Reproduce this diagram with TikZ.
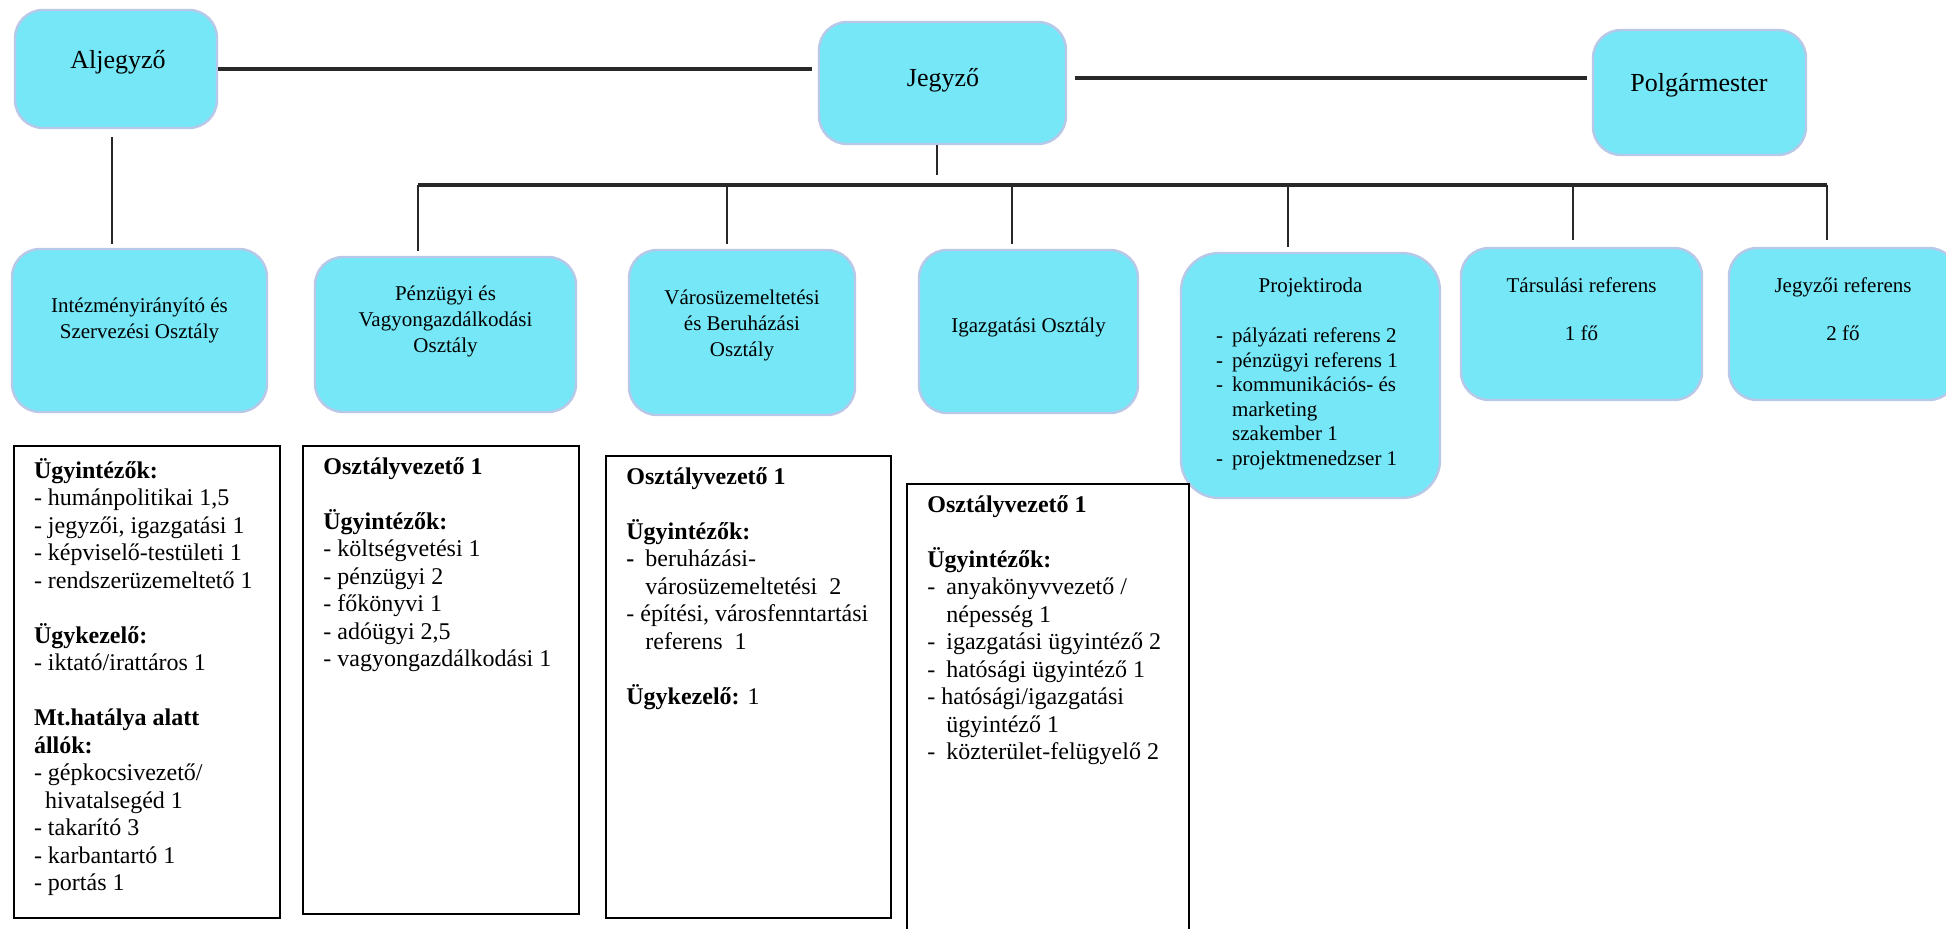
\documentclass[tikz,border=0pt]{standalone}
\usepackage{fontspec}
\setmainfont{Liberation Serif}
\usetikzlibrary{positioning}
\definecolor{boxfill}{RGB}{117,231,247}
\definecolor{boxline}{RGB}{183,200,232}
\definecolor{wire}{RGB}{40,40,40}
\newcommand{\itm}[1][9.5pt]{\makebox[#1][l]{-}}
\tikzset{
  unit/.style={draw=boxline, line width=1.2pt, fill=boxfill, rounded corners=14pt, inner sep=0pt},
  head/.style={font=\fontsize{13}{15}\selectfont, inner sep=0pt},
  dept/.style={font=\fontsize{10.5}{13}\selectfont, align=center, inner sep=0pt},
  sub/.style={font=\fontsize{10.5}{12.25}\selectfont, align=left, inner sep=0pt},
  staff/.style={draw=black, line width=1.1pt, inner sep=0pt, anchor=north west},
  list/.style={font=\fontsize{12}{13.75}\selectfont, align=left, inner sep=0pt},
  link/.style={draw=wire, line width=2pt},
  drop/.style={draw=wire, line width=1.4pt}
}
\begin{document}
\begin{tikzpicture}[x=0.5pt, y=-0.5pt]
  \useasboundingbox (0,0) rectangle (1946,929);
  \clip (0,0) rectangle (1946,929);

  \node[unit, minimum width=101pt, minimum height=59pt] (alj) at (116,69) {};
  \node[unit, minimum width=123.5pt, minimum height=61pt] (jeg) at (942.5,83) {};
  \node[unit, minimum width=106.5pt, minimum height=62.5pt] (pol) at (1699.5,92.5) {};
  \node[head] (aljt) at (118,62) {Aljegyző};
  \node[head] (jegt) at (943,80) {Jegyző};
  \node[head] (polt) at (1699,85) {Polgármester};

  \node[unit, minimum width=127.5pt, minimum height=81.5pt] (int) at (139.5,330.5) {};
  \node[unit, minimum width=130.5pt, minimum height=77.5pt] (pen) at (445.5,334.5) {};
  \node[unit, minimum width=113pt, minimum height=82.5pt] (var) at (742,332.5) {};
  \node[unit, minimum width=109.5pt, minimum height=81.5pt] (iga) at (1028.5,331.5) {};
  \node[unit, minimum width=129.5pt, minimum height=122.5pt, rounded corners=19pt] (prj) at (1310.5,375.5) {};
  \node[unit, minimum width=120.5pt, minimum height=76pt] (tar) at (1581.5,324) {};
  \node[unit, minimum width=114pt, minimum height=76pt] (jre) at (1843,324) {};

  \node[dept, below=25pt of int.north] (intt) {Intézményirányító és\\Szervezési Osztály};
  \node[dept, below=15pt of pen.north] (pent) {Pénzügyi és\\Vagyongazdálkodási\\Osztály};
  \node[dept, below=20.5pt of var.north] (vart) {Városüzemeltetési\\és Beruházási\\Osztály};
  \node[dept, below=34.5pt of iga.north] (igat) {Igazgatási Osztály};
  \node[dept, below=13pt of prj.north] (prjt) {Projektiroda};
  \node[sub, below right=38pt and 18pt of prj.north west] (prjl) {\itm[8pt]pályázati referens 2\\
    \itm[8pt]pénzügyi referens 1\\
    \itm[8pt]kommunikációs- és\\
    \hspace*{8pt}marketing\\
    \hspace*{8pt}szakember 1\\
    \itm[8pt]projektmenedzser 1};
  \node[dept, below=15.5pt of tar.north] (tart) {Társulási referens\\[11pt]1 fő};
  \node[dept, below=15.5pt of jre.north] (jret) {Jegyzői referens\\[11pt]2 fő};

  \node[staff, minimum width=133.3pt, minimum height=236pt] (fa) at (12.6,445) {};
  \node[staff, minimum width=138pt, minimum height=234pt] (fb) at (302,445) {};
  \node[staff, minimum width=142.5pt, minimum height=231pt] (fc) at (605,455) {};
  \node[staff, minimum width=141pt, minimum height=232pt] (fd) at (906,483) {};

  \node[list, below right=6.5pt and 10.5pt of fa.north west] (la) {\textbf{Ügyintézők:}\\
    - humánpolitikai 1,5\\
    - jegyzői, igazgatási 1\\
    - képviselő-testületi 1\\
    - rendszerüzemeltető 1\\[13.75pt]
    \textbf{Ügykezelő:}\\
    - iktató/irattáros 1\\[13.75pt]
    \textbf{Mt.hatálya alatt}\\
    \textbf{állók:}\\
    - gépkocsivezető/\\
    \hspace*{5.5pt}hivatalsegéd 1\\
    - takarító 3\\
    - karbantartó 1\\
    - portás 1};
  \node[list, below right=6pt and 10.5pt of fb.north west] (lb) {\textbf{Osztályvezető 1}\\[13.75pt]
    \textbf{Ügyintézők:}\\
    - költségvetési 1\\
    - pénzügyi 2\\
    - főkönyvi 1\\
    - adóügyi 2,5\\
    - vagyongazdálkodási 1};
  \node[list, below right=6pt and 10.5pt of fc.north west] (lc) {\textbf{Osztályvezető 1}\\[13.75pt]
    \textbf{Ügyintézők:}\\
    \makebox[9.5pt][l]{\textbf{-}}beruházási-\\
    \hspace*{9.5pt}városüzemeltetési\ \ 2\\
    - építési, városfenntartási\\
    \hspace*{9.5pt}referens\ \ 1\\[13.75pt]
    \textbf{Ügykezelő:} 1};
  \node[list, below right=6pt and 10.5pt of fd.north west] (ld) {\textbf{Osztályvezető 1}\\[13.75pt]
    \textbf{Ügyintézők:}\\
    \itm anyakönyvvezető /\\
    \hspace*{9.5pt}népesség 1\\
    \itm igazgatási ügyintéző 2\\
    \itm hatósági ügyintéző 1\\
    - hatósági/igazgatási\\
    \hspace*{9.5pt}ügyintéző 1\\
    \itm közterület-felügyelő 2};

  \coordinate (busL) at (418,185);
  \coordinate (busR) at (1827,185);
  \coordinate (stem) at (937,175);

  \draw[link, shorten >=3pt] (alj.east) -- (alj.east -| jeg.west);
  \draw[link, line width=1.8pt, shorten <=4pt, shorten >=2.5pt] ([yshift=2.5pt]jeg.east) -- ([yshift=2.5pt]jeg.east -| pol.west);
  \draw[drop, line width=1.1pt, shorten <=4pt, shorten >=2pt] ([xshift=-2pt]alj.south) -- ([xshift=-2pt]alj.south |- int.north);
  \draw[drop] ([xshift=-2.75pt]jeg.south) -- (stem);
  \draw[link, line width=1.8pt] (busL) -- (busR);
  \draw[drop] ([xshift=-13.75pt, yshift=2.5pt]pen.north) -- ([xshift=-13.75pt]pen.north |- busL);
  \draw[drop] ([xshift=-7.5pt, yshift=2.5pt]var.north) -- ([xshift=-7.5pt]var.north |- busL);
  \draw[drop] ([xshift=-8.25pt, yshift=2.5pt]iga.north) -- ([xshift=-8.25pt]iga.north |- busL);
  \draw[drop] ([xshift=-11.25pt, yshift=2.5pt]prj.north) -- ([xshift=-11.25pt]prj.north |- busL);
  \draw[drop] ([xshift=-4.25pt, yshift=3.5pt]tar.north) -- ([xshift=-4.25pt]tar.north |- busL);
  \draw[drop] ([xshift=-8pt, yshift=3.5pt]jre.north) -- ([xshift=-8pt]jre.north |- busL);
\end{tikzpicture}
\end{document}
